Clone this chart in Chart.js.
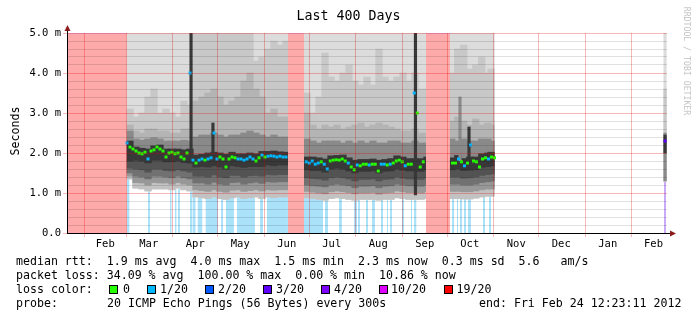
<!DOCTYPE html>
<html lang="en">
<head>
<meta charset="utf-8">
<title>Last 400 Days</title>
<script src="https://cdn.jsdelivr.net/npm/chart.js@4.4.1/dist/chart.umd.min.js"></script>
<style>
  html, body { margin: 0; padding: 0; background: #fff; }
  #frame { position: relative; width: 697px; height: 321px; overflow: hidden;
           font-family: "DejaVu Sans Mono", monospace; color: #000; }
  #frame canvas { position: absolute; left: 0; top: 0; }
  .line { position: absolute; white-space: pre; font-size: 11.6px; line-height: 14px; }
  .box { position: absolute; width: 7px; height: 7px; border: 1px solid #000; }
  #title { position: absolute; left: 0; top: 8px; width: 697px; text-align: center;
           font-size: 13.3px; line-height: 16px; white-space: pre; }
  #ytitle { position: absolute; left: -35px; top: 124px; width: 100px; text-align: center;
            font-size: 11.6px; line-height: 14px; transform: rotate(-90deg); }
  #stamp { position: absolute; left: 617px; top: 56px; width: 140px; text-align: center;
           font-size: 8.2px; line-height: 10px; color: #c4c4c4; transform: rotate(90deg); white-space: pre; }
</style>
</head>
<body>
<div id="frame">
  <canvas id="smoke" width="697" height="321"></canvas>
  <div id="title">Last 400 Days</div>
  <div id="ytitle">Seconds</div>
  <div id="stamp">RRDTOOL / TOBI OETIKER</div>
  <div class="line" style="left:16px; top:254px">median rtt:  1.9 ms avg  4.0 ms max  1.5 ms min  2.3 ms now  0.3 ms sd  5.6   am/s</div>
  <div class="line" style="left:16px; top:268px">packet loss: 34.09 % avg  100.00 % max  0.00 % min  10.86 % now</div>
  <div class="line" style="left:16px; top:282px">loss color:</div>
  <div id="lossKey"></div>
  <div class="line" style="left:16px; top:296px">probe:</div>
  <div class="line" style="left:107px; top:296px">20 ICMP Echo Pings (56 Bytes) every 300s</div>
  <div class="line" style="left:479px; top:296px">end: Fri Feb 24 12:23:11 2012</div>
</div>
<script>
// x axis is in days since the start of the window (Jan 20 2011 12:23), y in milliseconds

// month grid lines and the labels that sit in the middle of each month
const monthStarts = [11.48, 39.48, 70.48, 100.48, 131.48, 161.48, 192.48, 223.48, 253.48, 284.48, 314.48, 345.48, 376.48];
const monthMids = [25.5, 54.5, 85.5, 115.5, 146.5, 176.5, 207.5, 238.5, 268.5, 299.5, 329.5, 360.5, 391];
const monthNames = ['Feb', 'Mar', 'Apr', 'May', 'Jun', 'Jul', 'Aug', 'Sep', 'Oct', 'Nov', 'Dec', 'Jan', 'Feb'];
const yTickLabels = ['0.0', '1.0 m', '2.0 m', '3.0 m', '4.0 m', '5.0 m'];

// periods with no answer at all (100% loss)
const noDataFrom = [0, 147.3, 239.3];
const noDataTo = [39.8, 158, 255.3];

// smoke buckets (4 days each): outer pings (A) to the ones right around the median (E)
const bandDays = [42, 46, 50, 54, 58, 62, 66, 70, 74, 78, 82, 86, 90, 94, 98, 102, 106, 110, 114, 118, 122, 126, 130, 134, 138, 142, 146,
  160, 164, 168, 172, 176, 180, 184, 188, 192, 196, 200, 204, 208, 212, 216, 220, 224, 228, 232, 236, 240,
  256.5, 260.5, 264.5, 268.5, 272.5, 276.5, 280.5, 282.7];
const smokeTop = [5, 5, 5, 5, 5, 5, 5, 5, 5, 5, 5, 5, 5, 5, 5, 5, 5, 5, 5, 5, 5, 5, 5, 5, 5, 5, 5,
  5, 5, 5, 5, 5, 5, 5, 5, 5, 5, 5, 5, 5, 5, 5, 5, 5, 5, 5, 5, 5,
  5, 5, 5, 5, 5, 5, 5, 5];
const hiB = [3.1, 2.9, 3.0, 3.4, 3.6, 3.0, 3.1, 3.0, 2.9, 3.3, 3.2, 5.0, 5.0, 5.0, 5.0, 5.0, 5.0, 5.0, 5.0, 5.0, 5.0, 4.3, 4.4, 4.6, 4.8, 4.7, 4.8,
  3.5, 3.0, 3.4, 4.5, 3.9, 3.8, 4.0, 4.2, 3.8, 3.7, 3.9, 3.7, 4.6, 3.9, 3.8, 3.9, 4.0, 3.8, 4.0, 3.6, 3.6,
  4.0, 4.6, 4.7, 4.1, 4.2, 4.4, 4.0, 4.1];
const hiC = [2.7, 2.55, 2.5, 2.6, 2.6, 2.55, 2.55, 2.5, 2.5, 2.6, 2.6, 3.3, 3.4, 3.5, 3.6, 3.4, 3.2, 3.3, 3.4, 3.8, 4.0, 3.6, 3.4, 3.0, 3.1, 2.9, 2.9,
  3.0, 2.7, 2.6, 2.7, 2.65, 2.7, 2.6, 2.65, 2.7, 2.75, 2.65, 2.7, 2.75, 2.7, 2.65, 2.6, 2.55, 2.55, 2.6, 2.5, 2.5,
  2.8, 2.9, 2.8, 2.7, 2.85, 2.7, 2.75, 2.7];
const hiD = [2.55, 2.35, 2.32, 2.35, 2.38, 2.35, 2.3, 2.3, 2.3, 2.32, 2.3, 2.4, 2.45, 2.45, 2.5, 2.45, 2.4, 2.45, 2.45, 2.5, 2.55, 2.5, 2.45, 2.4, 2.45, 2.4, 2.4,
  2.35, 2.3, 2.25, 2.3, 2.3, 2.3, 2.25, 2.3, 2.25, 2.3, 2.25, 2.3, 2.25, 2.25, 2.3, 2.3, 2.25, 2.25, 2.3, 2.25, 2.25,
  2.35, 2.3, 2.35, 2.3, 2.3, 2.35, 2.35, 2.3];
const hiE = [2.3, 2.15, 2.12, 2.1, 2.18, 2.2, 2.1, 2.1, 2.1, 2.08, 2.1, 1.95, 1.97, 2.0, 2.02, 2.0, 1.97, 2.02, 1.98, 1.98, 2.0, 1.98, 2.04, 2.04, 2.05, 2.03, 2.02,
  1.9, 1.9, 1.88, 1.85, 1.93, 1.94, 1.95, 1.88, 1.82, 1.84, 1.84, 1.85, 1.82, 1.84, 1.86, 1.93, 1.9, 1.86, 1.86, 1.86, 1.9,
  1.88, 1.94, 1.86, 1.9, 1.9, 1.98, 2.0, 2.02];
const loE = [1.8, 1.82, 1.8, 1.75, 1.82, 1.82, 1.78, 1.78, 1.8, 1.76, 1.75, 1.65, 1.66, 1.65, 1.68, 1.65, 1.6, 1.68, 1.66, 1.64, 1.66, 1.66, 1.66, 1.7, 1.68, 1.7, 1.7,
  1.58, 1.56, 1.56, 1.52, 1.6, 1.62, 1.6, 1.55, 1.5, 1.54, 1.54, 1.55, 1.5, 1.54, 1.55, 1.6, 1.57, 1.55, 1.55, 1.54, 1.58,
  1.58, 1.6, 1.56, 1.57, 1.58, 1.64, 1.66, 1.68];
const loD = [1.62, 1.6, 1.58, 1.52, 1.6, 1.6, 1.56, 1.55, 1.58, 1.55, 1.52, 1.42, 1.42, 1.4, 1.45, 1.4, 1.38, 1.44, 1.44, 1.4, 1.43, 1.44, 1.42, 1.46, 1.45, 1.46, 1.46,
  1.38, 1.36, 1.35, 1.32, 1.38, 1.4, 1.38, 1.35, 1.3, 1.34, 1.34, 1.35, 1.3, 1.34, 1.35, 1.4, 1.37, 1.35, 1.35, 1.34, 1.38,
  1.4, 1.4, 1.37, 1.38, 1.4, 1.44, 1.46, 1.48];
const loC = [1.5, 1.42, 1.4, 1.35, 1.42, 1.42, 1.4, 1.38, 1.42, 1.38, 1.35, 1.25, 1.25, 1.22, 1.27, 1.22, 1.2, 1.26, 1.27, 1.22, 1.25, 1.27, 1.24, 1.28, 1.27, 1.28, 1.28,
  1.2, 1.18, 1.17, 1.15, 1.2, 1.22, 1.2, 1.18, 1.13, 1.17, 1.17, 1.18, 1.13, 1.17, 1.18, 1.22, 1.2, 1.18, 1.18, 1.17, 1.2,
  1.22, 1.22, 1.2, 1.2, 1.22, 1.26, 1.28, 1.3];
const loB = [1.42, 1.26, 1.25, 1.2, 1.26, 1.25, 1.25, 1.22, 1.26, 1.22, 1.2, 1.08, 1.06, 1.04, 1.08, 1.04, 1.02, 1.07, 1.08, 1.04, 1.06, 1.08, 1.05, 1.08, 1.07, 1.08, 1.08,
  1.04, 1.02, 1.0, 0.98, 1.03, 1.05, 1.03, 1.01, 0.98, 1.0, 1.0, 1.01, 0.97, 1.0, 1.01, 1.05, 1.03, 1.01, 1.01, 1.0, 1.03,
  1.04, 1.04, 1.03, 1.03, 1.05, 1.08, 1.1, 1.1];
const loA = [1.35, 1.12, 1.1, 1.05, 1.1, 1.1, 1.1, 1.08, 1.12, 1.08, 1.05, 0.9, 0.88, 0.86, 0.9, 0.86, 0.84, 0.88, 0.9, 0.86, 0.88, 0.9, 0.86, 0.9, 0.88, 0.9, 0.9,
  0.88, 0.86, 0.84, 0.82, 0.86, 0.88, 0.86, 0.84, 0.82, 0.84, 0.84, 0.84, 0.82, 0.84, 0.84, 0.88, 0.86, 0.84, 0.84, 0.84, 0.86,
  0.86, 0.86, 0.85, 0.85, 0.87, 0.9, 0.92, 0.92];

// single samples that stand out of the smoke (level = which smoke band they belong to)
const spikeDays = [82.7, 97.3, 232.3, 262, 268, 398.7, 398.7, 398.7, 398.7];
const spikeLow = [1.75, 1.9, 0.95, 1.8, 1.9, 1.28, 1.3, 1.3, 2.0];
const spikeHigh = [5.0, 2.75, 5.0, 3.4, 2.65, 5.0, 3.6, 2.5, 2.45];
const spikeLevel = [4, 4, 4, 3, 4, 0, 1, 3, 4];

// partial loss periods shown under the smoke (level = index into the loss colours)
const lossFrom = [39.8, 54, 68.7, 72, 74, 82, 83.7, 87, 92.3, 102.7, 106, 113.3, 128.7, 133.3,
  158, 172, 181.3, 191.3, 194, 199.3, 203.3, 209.3, 213.3, 215.3, 223.3, 229.3, 231.3,
  256.7, 260, 262, 264.7, 267.3, 277.3, 281.3, 398];
const lossTo = [41.7, 55.3, 69.8, 73.1, 75.3, 83.7, 85.8, 90.3, 100.7, 104, 111.3, 125.3, 130.7, 147.3,
  170.7, 174, 183.3, 193.3, 195.3, 200.7, 205.3, 210.7, 214, 216.7, 224.7, 230, 233,
  258, 260.7, 263.3, 266, 269.3, 278.7, 282.7, 399.3];
const lossTop = [1.4, 1.1, 1.1, 1.1, 1.1, 1.7, 0.95, 0.92, 0.92, 0.92, 0.92, 0.92, 0.92, 0.92,
  0.9, 0.9, 0.9, 0.9, 0.9, 0.9, 0.9, 0.9, 0.9, 0.9, 0.9, 0.9, 1.15,
  0.9, 0.9, 0.9, 0.9, 1.15, 0.9, 0.9, 1.28];
const lossLevel = [1, 1, 1, 1, 1, 1, 1, 1, 1, 1, 1, 1, 1, 1,
  1, 1, 1, 1, 1, 1, 1, 1, 1, 1, 1, 1, 1,
  1, 1, 1, 1, 1, 1, 1, 3];

// median rtt, one value every 2 days per run
const medianStart = [40, 84, 159.5, 257, 398.7];
const medianRun1 = [2.25, 2.15, 2.1, 2.05, 2.0, 1.98, 2.02, 1.85, 2.05, 2.08, 2.15, 2.1, 2.05, 1.9, 2.0, 2.02, 1.98, 2.0, 1.9, 1.85, 2.0, 4.0];
const lossRun1 = [1, 0, 0, 0, 0, 0, 0, 1, 0, 0, 0, 0, 0, 0, 0, 0, 0, 0, 0, 0, 0, 1];
const medianRun2 = [1.82, 1.75, 1.82, 1.85, 1.82, 1.85, 1.88, 2.5, 1.85, 1.9, 1.85, 1.65, 1.85, 1.9, 1.88, 1.85,
  1.85, 1.82, 1.85, 1.9, 1.85, 1.8, 1.88, 1.95, 1.9, 1.92, 1.93, 1.92, 1.9, 1.92, 1.9, 1.9];
const lossRun2 = [1, 0, 1, 1, 0, 1, 1, 1, 1, 0, 0, 0, 0, 0, 0, 1, 1, 1, 1, 1, 1, 0, 0, 1, 0, 1, 1, 1, 1, 1, 1, 1];
const medianRun3 = [1.78, 1.75, 1.8, 1.72, 1.75, 1.78, 1.72, 1.6, 1.8, 1.82, 1.83, 1.82, 1.85, 1.8, 1.75, 1.65, 1.58, 1.7, 1.68, 1.72,
  1.72, 1.7, 1.72, 1.72, 1.55, 1.72, 1.72, 1.7, 1.72, 1.75, 1.8, 1.82, 1.78, 1.68, 1.72, 1.72, 3.5, 3.0, 1.65, 1.78];
const lossRun3 = [1, 1, 1, 1, 1, 0, 1, 1, 0, 0, 0, 0, 0, 0, 1, 0, 0, 1, 0, 0, 0, 1, 0, 0, 0, 1, 1, 0, 1, 0, 0, 0, 0, 1, 0, 0, 1, 0, 0, 0];
const medianRun4 = [1.75, 1.75, 1.85, 1.78, 1.68, 1.75, 2.2, 1.8, 1.78, 1.65, 1.85, 1.88, 1.85, 1.9, 1.88];
const lossRun4 = [0, 0, 1, 0, 1, 0, 1, 0, 0, 0, 0, 0, 1, 0, 0];
const medianRun5 = [2.3];
const lossRun5 = [3];

const lossColors = ['#26ff00', '#00b8ff', '#0059ff', '#5e00ff', '#7e00ff', '#dd00ff', '#ff0000'];
const lossLabels = ['0', '1/20', '2/20', '3/20', '4/20', '10/20', '19/20'];

// ---- legend of loss colours (html text)
const keyBoxX = [109, 147, 204.5, 263, 321, 379, 444];
const keyTextX = [123, 160, 218, 276, 334, 391, 456.5];
const lossKey = document.getElementById('lossKey');
lossLabels.forEach((label, i) => {
  const box = document.createElement('div');
  box.className = 'box';
  box.style.left = keyBoxX[i] + 'px';
  box.style.top = '284.5px';
  box.style.background = lossColors[i];
  lossKey.appendChild(box);
  const txt = document.createElement('div');
  txt.className = 'line';
  txt.style.left = keyTextX[i] + 'px';
  txt.style.top = '282px';
  txt.textContent = label;
  lossKey.appendChild(txt);
});

// ---- build datasets
// upper side of the smoke uses the light shades, the part below the median is darker
const bandColors = ['#dcdcdc', '#c8c8c8', '#b4b4b4', '#8a8a8a', '#383838'];
const lowerColors = ['#c2c2c2', '#989898', '#717171', '#535353'];
const bandLow = [loA, loB, loC, loD, loE];
const bandHigh = [smokeTop, hiB, hiC, hiD, hiE];

function smokeBars(label, color, order, low, high, thickness) {
  return {
    type: 'bar',
    label: label,
    stack: 'smoke',
    order: order,
    barThickness: thickness,
    backgroundColor: color,
    borderWidth: 0,
    data: bandDays.map((d, i) => ({ x: d, y: [low[i], high[i]] }))
  };
}

const smokeSets = [];
for (let k = 0; k < 4; k++) {
  smokeSets.push(smokeBars('smoke ' + k, bandColors[k], 14 - k, bandLow[k], bandHigh[k], 6.6));
}
for (let k = 0; k < 4; k++) {
  smokeSets.push(smokeBars('smoke low ' + k, lowerColors[k], 10 - k, bandLow[k], loE, 6.6));
}
smokeSets.push(smokeBars('smoke core', bandColors[4], 6, loE, hiE, 6.6));

const spikeSet = {
  type: 'bar',
  label: 'spikes',
  stack: 'smoke',
  order: 4,
  barThickness: 2.5,
  borderWidth: 0,
  backgroundColor: spikeLevel.map(l => bandColors[l]),
  data: spikeDays.map((d, i) => ({ x: d, y: [spikeLow[i], spikeHigh[i]] }))
};

function intervals(from, to, top, keep) {
  const pts = [];
  from.forEach((f, i) => {
    if (!keep(i)) return;
    pts.push({ x: f, y: top[i] }, { x: to[i], y: top[i] }, { x: to[i], y: null });
  });
  return pts;
}

function lossStripes(level, color) {
  return {
    type: 'line',
    label: 'loss ' + level,
    order: 20,
    data: intervals(lossFrom, lossTo, lossTop, i => lossLevel[i] === level),
    fill: 'origin',
    backgroundColor: color,
    borderWidth: 0,
    pointRadius: 0,
    spanGaps: false
  };
}

const noDataSet = {
  type: 'line',
  label: 'no data',
  order: 3,
  data: intervals(noDataFrom, noDataTo, noDataFrom.map(() => 5), () => true),
  fill: 'origin',
  backgroundColor: '#ffaaaa',
  borderColor: '#d6a8ee',
  borderWidth: 1.5,
  pointRadius: 0,
  spanGaps: false
};

const medianPoints = [];
const medianLoss = [];
[[medianRun1, lossRun1], [medianRun2, lossRun2], [medianRun3, lossRun3], [medianRun4, lossRun4], [medianRun5, lossRun5]]
  .forEach(([vals, loss], r) => {
    vals.forEach((v, i) => {
      medianPoints.push({ x: medianStart[r] + 2 * i, y: v });
      medianLoss.push(loss[i]);
    });
  });

const medianSet = {
  type: 'line',
  label: 'median rtt',
  order: 0,
  data: medianPoints,
  showLine: false,
  pointStyle: 'rect',
  pointRadius: 2.1,
  pointBorderWidth: 0,
  pointBackgroundColor: medianLoss.map(l => lossColors[l])
};

// ---- axes helpers
const xTicks = [];
monthStarts.forEach((s, i) => { xTicks.push(s, monthMids[i]); });
const yTicks = [];
for (let i = 0; i <= 25; i++) yTicks.push(i / 5);

const gridMajor = 'rgba(235, 0, 0, 0.28)';
const gridMinor = 'rgba(0, 0, 0, 0.12)';

// small arrows at the ends of the axes, like rrdtool draws them
const axisArrows = {
  id: 'axisArrows',
  afterDraw(chart) {
    const { ctx, chartArea: a } = chart;
    ctx.save();
    ctx.strokeStyle = '#000';
    ctx.lineWidth = 1;
    ctx.beginPath();
    ctx.moveTo(a.right, a.bottom + 0.5);
    ctx.lineTo(a.right + 4, a.bottom + 0.5);
    ctx.moveTo(a.left + 0.5, a.top);
    ctx.lineTo(a.left + 0.5, a.top - 3);
    ctx.stroke();
    ctx.fillStyle = '#8c1c1c';
    ctx.beginPath();
    ctx.moveTo(a.right + 9, a.bottom + 0.5);
    ctx.lineTo(a.right + 3, a.bottom - 2.5);
    ctx.lineTo(a.right + 3, a.bottom + 3.5);
    ctx.closePath();
    ctx.fill();
    ctx.beginPath();
    ctx.moveTo(a.left + 0.5, a.top - 8);
    ctx.lineTo(a.left - 2.5, a.top - 2);
    ctx.lineTo(a.left + 3.5, a.top - 2);
    ctx.closePath();
    ctx.fill();
    ctx.restore();
  }
};

Chart.defaults.font.family = '"DejaVu Sans Mono", monospace';
Chart.defaults.font.size = 10.5;
Chart.defaults.color = '#000';

new Chart(document.getElementById('smoke'), {
  type: 'bar',
  data: {
    datasets: [
      medianSet,
      noDataSet,
      spikeSet,
      ...smokeSets,
      lossStripes(1, '#aae2fa'),
      lossStripes(3, '#c8a8f8')
    ]
  },
  plugins: [axisArrows],
  options: {
    responsive: false,
    animation: false,
    devicePixelRatio: 1,
    events: [],
    layout: { padding: { top: 33, right: 30, bottom: 0, left: 0 } },
    plugins: {
      legend: { display: false },
      tooltip: { enabled: false },
      title: { display: false }
    },
    scales: {
      x: {
        type: 'linear',
        min: 0,
        max: 400,
        offset: false,
        afterBuildTicks: s => { s.ticks = xTicks.map(v => ({ value: v })); },
        afterFit: s => { s.height = 88; },
        grid: {
          offset: false,
          z: 1,
          lineWidth: 1,
          tickLength: 4,
          color: c => (c.index % 2 === 0 ? gridMajor : 'rgba(0,0,0,0)'),
          tickColor: c => (c.index % 2 === 0 ? gridMajor : 'rgba(0,0,0,0)')
        },
        border: { color: '#000', width: 1, z: 2 },
        ticks: {
          autoSkip: false,
          maxRotation: 0,
          minRotation: 0,
          padding: 1,
          callback: (v, i) => (i % 2 === 1 ? monthNames[(i - 1) / 2] : '')
        }
      },
      y: {
        type: 'linear',
        min: 0,
        max: 5,
        stacked: false,
        afterBuildTicks: s => { s.ticks = yTicks.map(v => ({ value: v })); },
        afterFit: s => { s.width = 67; },
        grid: {
          z: 1,
          lineWidth: 1,
          tickLength: 4,
          color: c => (c.index % 5 === 0 ? gridMajor : gridMinor),
          tickColor: c => (c.index % 5 === 0 ? gridMajor : 'rgba(0,0,0,0)')
        },
        border: { color: '#000', width: 1, z: 2 },
        ticks: {
          autoSkip: false,
          padding: 2,
          callback: (v, i) => (i % 5 === 0 ? yTickLabels[i / 5] : '')
        }
      }
    }
  }
});
</script>
</body>
</html>
